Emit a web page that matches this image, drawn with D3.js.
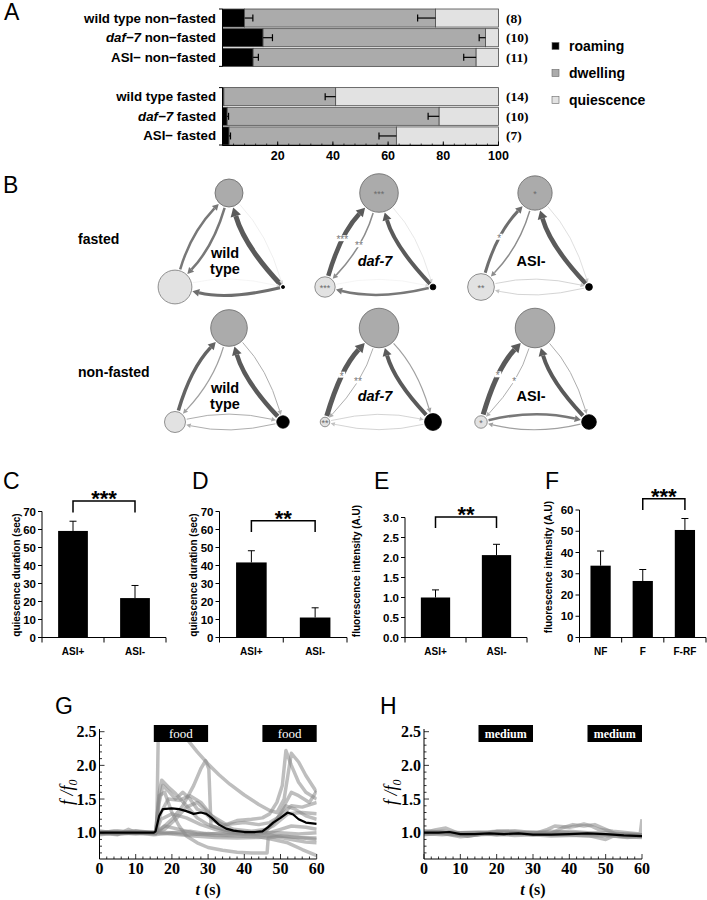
<!DOCTYPE html>
<html>
<head>
<meta charset="utf-8">
<script src="https://cdn.jsdelivr.net/npm/d3@7"></script>
<style>
  body { margin: 0; background: #fff; }
  svg { display: block; }
</style>
</head>
<body>
<svg id="fig" width="707" height="900"></svg>
<script>
// ---- data ----
const strains = ['wild type', 'daf-7', 'ASI-']
const conditions = ['non-fasted', 'fasted']

// panel A, rows: non-fasted (wt, daf-7, ASI-), then fasted (wt, daf-7, ASI-)
const roaming = [8.0, 14.7, 11.1, 0.5, 1.7, 2.4]
const roamingErr = [3.0, 3.4, 1.9, 0, 0.5, 0.5]
const dwelling = [69.2, 80.6, 80.8, 40.5, 76.8, 60.6]
const dwellingErr = [6.5, 2.3, 4.5, 3.8, 4.0, 6.3]
const nWorms = [8, 10, 11, 14, 10, 7]
const stateNames = ['roaming', 'dwelling', 'quiescence']

// panel B, transition weights per strain: QD, DQ, RD, DR, QR, RQ
const edgeKeys = ['QD', 'DQ', 'RD', 'DR', 'QR', 'RQ']
const fastedEdges = [
    [2.5, 2.5, 5.0, 0.4, 0.3, 3.0],
    [4.5, 1.5, 4.0, 0.5, 0.3, 2.5],
    [3.0, 1.5, 4.5, 0.6, 0.7, 0.7]
]
const nonFastedEdges = [
    [3.5, 1.2, 4.5, 1.0, 1.0, 1.0],
    [5.0, 1.0, 4.0, 1.2, 0.7, 0.7],
    [5.0, 1.0, 4.0, 1.0, 2.5, 1.2]
]
const fastedMarks = [{}, { D: '***', Q: '***', QD: '***', DQ: '**' }, { D: '*', Q: '**', QD: '*' }]
const nonFastedMarks = [{}, { Q: '**', QD: '*', DQ: '**' }, { Q: '*', QD: '*', DQ: '*' }]

// panels C-F
const asiCats = ['ASI+', 'ASI-']
const cVals = [59.2, 21.9]
const cErr = [5.4, 7.0]
const dVals = [41.7, 11.1]
const dErr = [6.5, 5.4]
const eVals = [1.0, 2.06]
const eErr = [0.19, 0.27]
const fCats = ['NF', 'F', 'F-RF']
const fVals = [33.8, 26.6, 50.6]
const fErr = [6.9, 5.4, 5.4]

// panel G, calcium traces [t (s), f/f0]
const gTraces = [
    [[0,1.0],[4,1.02],[8,0.99],[12,1.01],[15.8,1.0],[16.3,2.7],[22,2.6],[24,2.4],[27,2.2],[30,2.02],[33,1.86],[36,1.72],[40,1.56],[44,1.42],[47,1.33],[49,1.3],[51,1.5],[53,2.18],[55,2.05],[57,1.85],[60,1.6]],
    [[0,0.98],[5,1.0],[10,1.02],[15,0.99],[17,1.05],[20,1.2],[23,1.4],[26,1.7],[28,1.95],[29.3,2.07],[30.2,1.95],[30.8,1.1],[34,1.05],[38,1.02],[42,1.0],[46,1.02],[49,1.2],[51.5,1.4],[54,1.35],[57,1.25],[60,1.2]],
    [[0,1.02],[6,0.99],[11,1.01],[15.5,1.0],[16.5,1.6],[17.2,1.78],[19,1.68],[21,1.58],[24,1.4],[27,1.22],[30,1.12],[34,1.05],[38,1.0],[43,0.98],[47,1.0],[50,1.05],[53,1.1],[57,1.08],[60,1.05]],
    [[0,1.0],[5,0.97],[8,1.05],[10,1.0],[15.5,0.98],[16.5,1.45],[17.5,1.7],[19,1.62],[21,1.5],[23,1.6],[25,1.5],[27,1.35],[29,1.3],[31,1.2],[34,1.1],[38,1.18],[42,1.2],[45,1.22],[47,1.28],[49,1.45],[50.5,1.7],[51.5,2.22],[53,2.0],[55,1.75],[57,1.6],[60,1.5]],
    [[0,0.97],[5,1.0],[10,0.98],[15.5,1.0],[16.5,1.55],[18,1.6],[20,1.3],[22,1.1],[24,0.95],[27,0.85],[30,0.78],[34,0.74],[38,0.71],[42,0.7],[46.3,0.7],[46.6,0.92],[50,0.95],[55,0.93],[60,0.9]],
    [[0,1.0],[5,1.03],[10,1.0],[15.5,1.0],[17,1.3],[19,1.5],[22,1.48],[25,1.55],[28,1.45],[31,1.25],[35,1.12],[40,1.15],[44,1.12],[47,1.15],[50,1.25],[53,1.4],[56,1.38],[60,1.45]],
    [[0,1.01],[5,0.98],[10,1.0],[15.5,0.99],[17,1.2],[20,1.28],[24,1.22],[28,1.12],[32,1.05],[36,1.0],[40,0.98],[44,1.0],[48,1.1],[52,1.28],[56,1.3],[60,1.28]],
    [[0,0.99],[5,1.0],[10,1.01],[15,1.0],[18,1.05],[21,1.2],[24,1.38],[27,1.45],[30,1.3],[33,1.15],[37,1.05],[42,1.02],[46,1.05],[49,1.2],[51,1.4],[53,1.6],[55,1.55],[58,1.45],[60,1.62]],
    [[0,1.0],[5,0.98],[10,1.0],[15,0.97],[20,1.0],[25,0.97],[30,0.99],[35,0.97],[40,0.98],[45,0.97],[50,0.95],[55,0.93],[60,0.92]],
    [[0,1.02],[5,1.0],[10,0.99],[15,1.01],[20,1.0],[25,1.02],[30,0.98],[35,1.0],[40,1.01],[45,1.0],[50,1.0],[55,0.98],[60,1.0]],
    [[0,0.99],[5,1.01],[10,1.0],[15,1.0],[18,1.1],[22,1.05],[27,0.98],[32,0.96],[38,0.95],[44,0.94],[48,0.9],[52,0.85],[56,0.75],[60,0.66]],
    [[0,1.0],[5,0.99],[10,1.03],[15,1.0],[20,0.98],[26,0.95],[32,0.93],[38,0.92],[44,0.93],[48,0.95],[53,0.9],[57,0.86],[60,0.85]]
]
const gMean = [[0,1.0],[5,1.0],[10,1.0],[15,1.0],[15.5,1.02],[16.5,1.25],[17.5,1.35],[20,1.36],[22,1.35],[24,1.32],[26,1.28],[28,1.3],[29.5,1.28],[31,1.22],[33,1.12],[35,1.06],[37,1.03],[40,1.01],[43,1.01],[45,1.02],[46.5,1.08],[48,1.15],[50,1.22],[52,1.3],[53.5,1.27],[55,1.2],[57,1.15],[60,1.13]]

// panel H
const hTraces = [
    [[0,1.0],[3,1.04],[6,1.07],[9,1.0],[12,0.95],[15,0.97],[20,1.02],[25,1.03],[30,1.0],[35,1.02],[40,1.0],[45,0.99],[50,0.97],[55,0.98],[60,0.97]],
    [[0,0.97],[4,0.99],[8,0.97],[12,0.95],[16,0.98],[20,0.97],[25,0.98],[30,0.98],[34,1.05],[36,1.1],[40,1.08],[42,1.1],[44,1.13],[46,1.1],[48,1.05],[52,1.02],[56,1.0],[59.5,0.98],[60,1.2]],
    [[0,1.02],[5,1.0],[10,1.0],[15,1.01],[20,0.99],[25,1.0],[30,0.97],[35,0.99],[38,1.07],[41,1.12],[44,1.1],[47,1.12],[50,1.05],[54,0.95],[60,0.94]],
    [[0,0.98],[5,0.99],[10,0.94],[15,0.97],[20,0.98],[25,0.96],[30,0.97],[35,0.95],[40,0.96],[45,0.96],[50,0.9],[52,0.95],[56,0.93],[60,0.95]],
    [[0,1.0],[5,1.02],[10,1.0],[15,1.0],[20,1.02],[25,1.01],[30,1.0],[35,1.0],[40,1.02],[45,1.0],[50,1.0],[55,0.98],[60,0.97]],
    [[0,1.03],[5,1.01],[10,0.97],[15,0.99],[20,1.01],[25,1.0],[30,0.99],[35,0.97],[40,0.97],[45,0.95],[50,0.96],[55,0.94],[60,0.93]],
    [[0,0.99],[5,0.97],[10,0.99],[15,1.0],[20,0.97],[25,0.99],[30,1.01],[35,0.98],[40,0.99],[45,0.98],[50,0.97],[55,0.97],[60,0.96]]
]
const hMean = [[0,1.0],[4,1.0],[7,1.01],[10,0.98],[14,0.98],[18,0.99],[22,0.98],[26,0.99],[30,0.97],[35,0.97],[40,0.98],[45,0.99],[50,0.98],[55,0.96],[60,0.95]]

const gStim = [[15, 30], [45, 60]]
const gStimLabel = 'food'
const hStimLabel = 'medium'

// ---- drawing ----
const svg = d3.select('#fig')
const SANS = '"Liberation Sans", Arial, sans-serif'
const SERIF = '"Liberation Serif", "Times New Roman", serif'
const stateFill = ['#000000', '#ababab', '#e2e2e2']

function letter (t, x, y) {
    svg.append('text').attr('x', x).attr('y', y).attr('font-family', SANS)
        .attr('font-size', 23).text(t)
}

// ===== A =====
letter('A', 4, 20)
{
    const x = d3.scaleLinear().domain([0, 100]).range([222.5, 498.5])
    const y = d3.scaleBand().domain(d3.range(7)).range([9, 145]).paddingInner(0.08)
    const rows = []
    conditions.forEach((c, ci) => strains.forEach((s, si) => {
        const i = ci * 3 + si
        rows.push({ c, s, slot: ci * 4 + si, r: roaming[i], re: roamingErr[i],
            d: dwelling[i], de: dwellingErr[i], n: nWorms[i] })
    }))
    const g = svg.append('g')
    const bw = y.bandwidth()
    rows.forEach(row => {
        const segs = [[0, row.r], [row.r, row.r + row.d], [row.r + row.d, 100]]
        segs.forEach((s, k) => {
            g.append('rect').attr('x', x(s[0])).attr('y', y(row.slot))
                .attr('width', Math.max(0, x(s[1]) - x(s[0]))).attr('height', bw)
                .attr('fill', stateFill[k]).attr('stroke', '#4a4a4a').attr('stroke-width', 0.8)
        })
        const cy = y(row.slot) + bw / 2
        // error bars
        if (row.re > 0) {
            g.append('line').attr('x1', x(row.r)).attr('x2', x(row.r + row.re))
                .attr('y1', cy).attr('y2', cy).attr('stroke', '#000').attr('stroke-width', 1.2)
            g.append('line').attr('x1', x(row.r + row.re)).attr('x2', x(row.r + row.re))
                .attr('y1', cy - 3.5).attr('y2', cy + 3.5).attr('stroke', '#000').attr('stroke-width', 1.2)
        }
        const de0 = row.r + row.d
        g.append('line').attr('x1', x(de0)).attr('x2', x(de0 - row.de))
            .attr('y1', cy).attr('y2', cy).attr('stroke', '#000').attr('stroke-width', 1.2)
        g.append('line').attr('x1', x(de0 - row.de)).attr('x2', x(de0 - row.de))
            .attr('y1', cy - 3.5).attr('y2', cy + 3.5).attr('stroke', '#000').attr('stroke-width', 1.2)
        // row label
        const t = g.append('text').attr('x', 216).attr('y', cy + 4.5).attr('text-anchor', 'end')
            .attr('font-family', SANS).attr('font-weight', 'bold').attr('font-size', 13.3)
        t.append('tspan').attr('font-style', row.s === 'daf-7' ? 'italic' : 'normal')
            .text(row.s.replace('-', '\u2212'))
        t.append('tspan').text(' ' + row.c.replace('-', '\u2212'))
        g.append('text').attr('x', 506).attr('y', cy + 4.5).attr('font-family', SERIF)
            .attr('font-weight', 'bold').attr('font-size', 13.5).text('(' + row.n + ')')
    })
    // left axis segments per condition group
    conditions.forEach((c, ci) => {
        const y0 = y(ci * 4), y1 = y(ci * 4 + 2) + bw
        g.append('line').attr('x1', 222.5).attr('x2', 222.5).attr('y1', y0).attr('y2', y1)
            .attr('stroke', '#000')
        ;[y0, y1].forEach(v => g.append('line').attr('x1', 219).attr('x2', 222.5)
            .attr('y1', v).attr('y2', v).attr('stroke', '#000'))
    })
    // bottom axis
    const ay = 145.5
    g.append('line').attr('x1', x(0)).attr('x2', x(100)).attr('y1', ay).attr('y2', ay).attr('stroke', '#000')
    d3.range(0, 101, 4).forEach(v => g.append('line').attr('x1', x(v)).attr('x2', x(v))
        .attr('y1', ay).attr('y2', ay - 2).attr('stroke', '#000').attr('stroke-width', 0.7))
    d3.range(0, 101, 20).forEach(v => {
        g.append('line').attr('x1', x(v)).attr('x2', x(v)).attr('y1', ay).attr('y2', ay - 4)
            .attr('stroke', '#000')
        if (v > 0) g.append('text').attr('x', x(v)).attr('y', 160).attr('text-anchor', 'middle')
            .attr('font-family', SANS).attr('font-weight', 'bold').attr('font-size', 12.5).text(v)
    })
    // legend
    stateNames.forEach((s, k) => {
        const cy = 46 + k * 27
        g.append('rect').attr('x', 552).attr('y', cy - 3.5).attr('width', 7).attr('height', 7)
            .attr('fill', stateFill[k]).attr('stroke', '#666').attr('stroke-width', 0.6)
        g.append('text').attr('x', 569).attr('y', cy + 5).attr('font-family', SANS)
            .attr('font-weight', 'bold').attr('font-size', 14).text(s)
    })
}

// ===== B =====
letter('B', 3, 193)
{
    const rScale = d3.scaleSqrt().domain([0, 100]).range([0, 22])
    const edgeColor = d3.scaleLinear().domain([0.3, 1.5, 4]).range(['#dddddd', '#8c8c8c', '#5a5a5a']).clamp(true)
    const stripX = [229, 379, 535]
    const rowTop = { 'fasted': 193, 'non-fasted': 328 }
    const g = svg.append('g')

    g.append('text').attr('x', 78).attr('y', 244).attr('font-family', SANS).attr('font-weight', 'bold')
        .attr('font-size', 14).text('fasted')
    g.append('text').attr('x', 78).attr('y', 377).attr('font-family', SANS).attr('font-weight', 'bold')
        .attr('font-size', 14).text('non-fasted')

    function edge (a, b, w, mark) {
        const dx = b.x - a.x, dy = b.y - a.y, L = Math.hypot(dx, dy)
        const px = dy / L, py = -dx / L
        const bulge = 13
        const cx = (a.x + b.x) / 2 + px * bulge, cy = (a.y + b.y) / 2 + py * bulge
        const toward = (n, r) => {
            const ux = cx - n.x, uy = cy - n.y, l = Math.hypot(ux, uy)
            return [n.x + ux / l * r, n.y + uy / l * r]
        }
        const s = toward(a, a.r + 1.5)
        const tip = toward(b, b.r + 1)
        const hl = 3.5 + w * 1.1, hw = 1.6 + w * 0.75
        let tx = tip[0] - cx, ty = tip[1] - cy
        const tl = Math.hypot(tx, ty); tx /= tl; ty /= tl
        const base = [tip[0] - tx * hl, tip[1] - ty * hl]
        const col = edgeColor(w)
        g.append('path').attr('d', `M${s[0]},${s[1]}Q${cx},${cy} ${base[0]},${base[1]}`)
            .attr('fill', 'none').attr('stroke', col).attr('stroke-width', w)
        g.append('path').attr('d', `M${tip[0]},${tip[1]}L${base[0] - ty * hw},${base[1] + tx * hw}` +
            `L${base[0] + ty * hw},${base[1] - tx * hw}Z`).attr('fill', col)
        if (mark) {
            const mx = 0.25 * s[0] + 0.5 * cx + 0.25 * base[0]
            const my = 0.25 * s[1] + 0.5 * cy + 0.25 * base[1]
            const bwid = mark.length * 5 + 2
            g.append('rect').attr('x', mx - bwid / 2).attr('y', my - 4).attr('width', bwid)
                .attr('height', 6).attr('fill', '#fff')
            g.append('text').attr('x', mx).attr('y', my + 4).attr('text-anchor', 'middle')
                .attr('font-family', SANS).attr('font-size', 10).attr('fill', '#777').text(mark)
        }
    }

    ;['fasted', 'non-fasted'].forEach(cond => {
        const ci = conditions.indexOf(cond)
        const edges = cond === 'fasted' ? fastedEdges : nonFastedEdges
        const marks = cond === 'fasted' ? fastedMarks : nonFastedMarks
        strains.forEach((s, si) => {
            const i = ci * 3 + si
            const top = rowTop[cond], cx = stripX[si]
            const fr = [roaming[i], dwelling[i], 100 - roaming[i] - dwelling[i]]
            const nodes = {
                R: { x: cx + 54, y: top + 94, r: rScale(fr[0]), fill: stateFill[0], stroke: '#000' },
                D: { x: cx, y: top, r: rScale(fr[1]), fill: stateFill[1], stroke: '#666' },
                Q: { x: cx - 54, y: top + 94, r: rScale(fr[2]), fill: stateFill[2], stroke: '#777' }
            }
            edgeKeys.forEach((k, ei) => {
                const w = edges[si][ei]
                if (w < 0.2) return
                edge(nodes[k[0]], nodes[k[1]], w, marks[si][k])
            })
            ;['D', 'Q', 'R'].forEach(k => {
                const n = nodes[k]
                g.append('circle').attr('cx', n.x).attr('cy', n.y).attr('r', n.r)
                    .attr('fill', n.fill).attr('stroke', n.stroke).attr('stroke-width', 0.8)
                if (marks[si][k]) g.append('text').attr('x', n.x).attr('y', n.y + 4)
                    .attr('text-anchor', 'middle').attr('font-family', SANS).attr('font-size', 9)
                    .attr('fill', '#6a6a6a').text(marks[si][k])
            })
            // strain label
            const lab = g.append('text').attr('x', cx - 4).attr('text-anchor', 'middle')
                .attr('font-family', SANS).attr('font-weight', 'bold').attr('font-size', 14.5)
            if (s === 'wild type') {
                lab.attr('y', top + 65)
                lab.append('tspan').attr('x', cx - 4).text('wild')
                lab.append('tspan').attr('x', cx - 4).attr('dy', 16).text('type')
            } else {
                lab.attr('y', top + 73).attr('font-style', s === 'daf-7' ? 'italic' : 'normal').text(s)
            }
        })
    })
}

// ===== C - F =====
function barPanel (o) {
    const g = svg.append('g')
    const y0 = 637.5
    const y = d3.scaleLinear().domain([0, o.max]).range([y0, o.yTop])
    const x = d3.scaleBand().domain(o.cats).range([o.x0, o.x1]).paddingInner(0.52).paddingOuter(0.26)
    letter(o.letter, o.lx, 489)
    o.vals.forEach((v, i) => {
        const c = o.cats[i], cx = x(c) + x.bandwidth() / 2
        g.append('rect').attr('x', x(c)).attr('y', y(v)).attr('width', x.bandwidth())
            .attr('height', y0 - y(v)).attr('fill', '#000')
        g.append('line').attr('x1', cx).attr('x2', cx).attr('y1', y(v)).attr('y2', y(v + o.err[i]))
            .attr('stroke', '#000').attr('stroke-width', 1)
        g.append('line').attr('x1', cx - 3.5).attr('x2', cx + 3.5).attr('y1', y(v + o.err[i]))
            .attr('y2', y(v + o.err[i])).attr('stroke', '#000').attr('stroke-width', 1)
        g.append('text').attr('x', cx).attr('y', 655).attr('text-anchor', 'middle')
            .attr('font-family', SANS).attr('font-weight', 'bold').attr('font-size', 10).text(c)
    })
    // axes
    g.append('line').attr('x1', o.x0).attr('x2', o.x0).attr('y1', y0).attr('y2', y(o.max)).attr('stroke', '#000')
    g.append('line').attr('x1', o.x0).attr('x2', o.x1).attr('y1', y0).attr('y2', y0).attr('stroke', '#000')
    const bounds = o.cats.map(c => x(c) - x.step() * 0.26).concat([o.x1])
    bounds.forEach(b => g.append('line').attr('x1', b).attr('x2', b).attr('y1', y0).attr('y2', y0 + 5)
        .attr('stroke', '#000'))
    d3.range(0, o.max + o.step / 2, o.step).forEach(v => {
        g.append('line').attr('x1', o.x0 - 4).attr('x2', o.x0).attr('y1', y(v)).attr('y2', y(v))
            .attr('stroke', '#000')
        g.append('text').attr('x', o.x0 - 6).attr('y', y(v)).attr('dy', '0.36em')
            .attr('text-anchor', 'end').attr('font-family', SANS).attr('font-weight', 'bold')
            .attr('font-size', 11.5).text(d3.format(o.fmt)(v))
    })
    g.append('text').attr('transform', `translate(${o.ylx},${o.yly}) rotate(-90)`)
        .attr('text-anchor', 'middle').attr('font-family', SANS).attr('font-weight', 'bold')
        .attr('font-size', 10).text(o.ylabel)
    // significance bracket
    const bx0 = x(o.cats[o.br[0]]) + x.bandwidth() / 2, bx1 = x(o.cats[o.br[1]]) + x.bandwidth() / 2
    g.append('path').attr('d', `M${bx0},${y(o.legs)}V${y(o.top)}H${bx1}V${y(o.legs)}`)
        .attr('fill', 'none').attr('stroke', '#000').attr('stroke-width', 1.5)
    g.append('text').attr('x', (bx0 + bx1) / 2).attr('y', y(o.top) + 5).attr('text-anchor', 'middle')
        .attr('font-family', SANS).attr('font-weight', 'bold').attr('font-size', 22).text(o.stars)
}

barPanel({ letter: 'C', lx: 3, cats: asiCats, vals: cVals, err: cErr, x0: 42, x1: 166, max: 70, yTop: 511.5,
    step: 10, fmt: 'd', ylabel: 'quiescence duration (sec)', ylx: 20, yly: 575,
    br: [0, 1], top: 75.8, legs: 69.4, stars: '***' })
barPanel({ letter: 'D', lx: 192, cats: asiCats, vals: dVals, err: dErr, x0: 219.5, x1: 347, max: 70, yTop: 511.5,
    step: 10, fmt: 'd', ylabel: 'quiescence duration (sec)', ylx: 197, yly: 575,
    br: [0, 1], top: 64.8, legs: 58.6, stars: '**' })
barPanel({ letter: 'E', lx: 374, cats: asiCats, vals: eVals, err: eErr, x0: 405, x1: 527, max: 3, yTop: 517.5,
    step: 0.5, fmt: '.1f', ylabel: 'fluorescence intensity (A.U)', ylx: 360, yly: 571,
    br: [0, 1], top: 3.01, legs: 2.74, stars: '**' })
barPanel({ letter: 'F', lx: 545, cats: fCats, vals: fVals, err: fErr, x0: 579.5, x1: 706, max: 60, yTop: 510,
    step: 10, fmt: 'd', ylabel: 'fluorescence intensity (A.U)', ylx: 552, yly: 567,
    br: [1, 2], top: 65.3, legs: 60, stars: '***' })

// ===== G, H =====
function tracePanel (o) {
    const g = svg.append('g')
    const x = d3.scaleLinear().domain([0, 60]).range([o.x0, o.x1])
    const y = d3.scaleLinear().domain([1, 2.5]).range([832.7, 731.7])
    const yBot = 859, yTop = 729
    letter(o.letter, o.lx, 714)
    const clipId = 'clip' + o.letter
    svg.append('clipPath').attr('id', clipId).append('rect')
        .attr('x', o.x0).attr('y', yTop).attr('width', o.x1 - o.x0).attr('height', yBot - yTop)
    const line = d3.line().x(d => x(d[0])).y(d => y(d[1]))
    const tg = g.append('g').attr('clip-path', `url(#${clipId})`)
    o.traces.forEach(t => tg.append('path').attr('d', line(t)).attr('fill', 'none')
        .attr('stroke', '#888').attr('stroke-opacity', 0.55).attr('stroke-width', 3.5)
        .attr('stroke-linejoin', 'round'))
    tg.append('path').attr('d', line(o.mean)).attr('fill', 'none').attr('stroke', '#000')
        .attr('stroke-width', 2.2).attr('stroke-linejoin', 'round')
    // stimulus boxes
    gStim.forEach(s => {
        g.append('rect').attr('x', x(s[0])).attr('y', 725).attr('width', x(s[1]) - x(s[0]))
            .attr('height', 17).attr('fill', '#000')
        g.append('text').attr('x', (x(s[0]) + x(s[1])) / 2).attr('y', 737.5).attr('text-anchor', 'middle')
            .attr('font-family', SERIF).attr('font-weight', o.boldStim ? 'bold' : 'normal')
            .attr('font-size', o.boldStim ? 12 : 13).attr('fill', '#fff').text(o.stim)
    })
    // axes
    g.append('line').attr('x1', o.x0).attr('x2', o.x0).attr('y1', yBot).attr('y2', yTop).attr('stroke', '#000')
    g.append('line').attr('x1', o.x0).attr('x2', o.x1).attr('y1', yBot).attr('y2', yBot).attr('stroke', '#000')
    d3.range(7, 26).forEach(k => {
        const v = k / 10, major = k % 5 === 0
        g.append('line').attr('x1', o.x0).attr('x2', o.x0 + (major ? 5 : 2.5)).attr('y1', y(v)).attr('y2', y(v))
            .attr('stroke', '#000').attr('stroke-width', 0.8)
        if (major) g.append('text').attr('x', o.x0 - 3).attr('y', y(v) + 5.5).attr('text-anchor', 'end')
            .attr('font-family', SERIF).attr('font-weight', 'bold').attr('font-size', 16).text(v.toFixed(1))
    })
    d3.range(0, 61, 2).forEach(t => {
        const major = t % 10 === 0
        g.append('line').attr('x1', x(t)).attr('x2', x(t)).attr('y1', yBot).attr('y2', yBot - (major ? 5 : 2.5))
            .attr('stroke', '#000').attr('stroke-width', 0.8)
        if (major) g.append('text').attr('x', x(t)).attr('y', 874).attr('text-anchor', 'middle')
            .attr('font-family', SERIF).attr('font-weight', 'bold').attr('font-size', 16).text(t)
    })
    const xl = g.append('text').attr('x', x(30)).attr('y', 895).attr('text-anchor', 'middle')
        .attr('font-family', SERIF).attr('font-weight', 'bold').attr('font-size', 16)
    xl.append('tspan').attr('font-style', 'italic').text('t')
    xl.append('tspan').text(' (s)')
    const yl = g.append('text').attr('transform', `translate(${o.x0 - 27},${y(1.6)}) rotate(-90)`)
        .attr('text-anchor', 'middle').attr('font-family', SERIF).attr('font-style', 'italic')
        .attr('font-size', 18)
    yl.append('tspan').text('f /f')
    yl.append('tspan').attr('font-size', 12).attr('dy', 4).text('0')
}

tracePanel({ letter: 'G', lx: 55, x0: 99.5, x1: 316.7, traces: gTraces, mean: gMean, stim: gStimLabel, boldStim: false })
tracePanel({ letter: 'H', lx: 380, x0: 424, x1: 642, traces: hTraces, mean: hMean, stim: hStimLabel, boldStim: true })
</script>
</body>
</html>
